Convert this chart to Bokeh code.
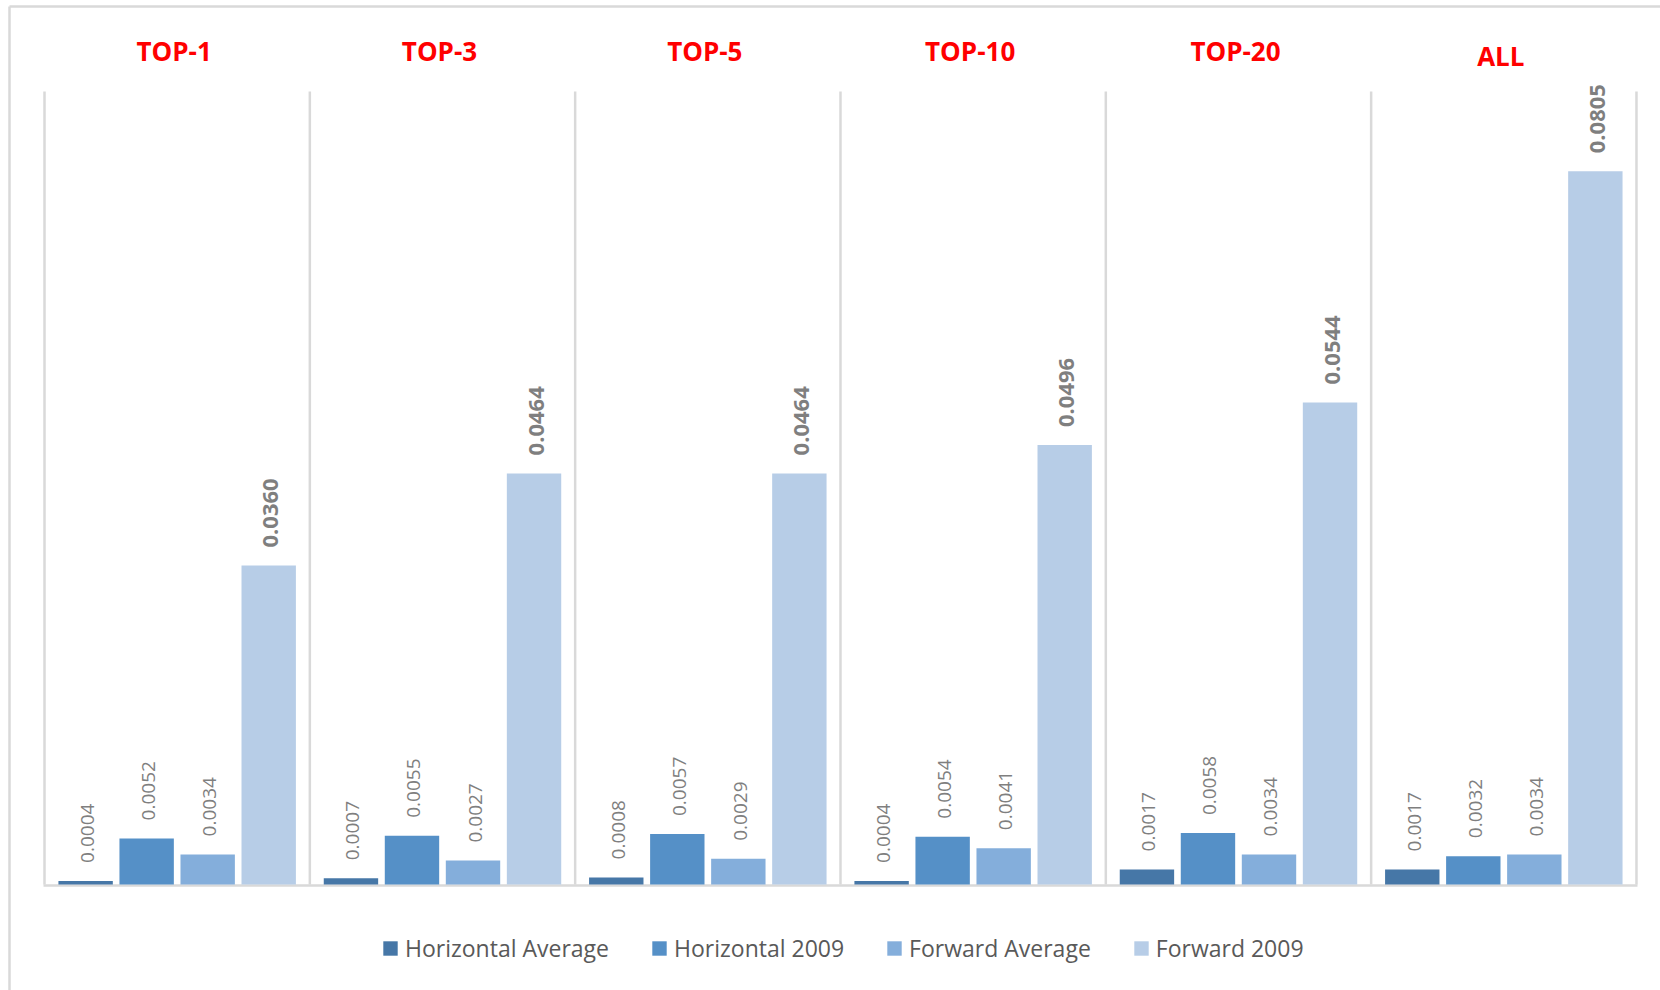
import numpy as np
from bokeh.plotting import figure
from bokeh.models import ColumnDataSource, Range1d, Legend, LegendItem
from bokeh.core.properties import value
from bokeh.embed import file_html
from bokeh.resources import INLINE

# ---- data ----
groups = ["TOP-1", "TOP-3", "TOP-5", "TOP-10", "TOP-20", "ALL"]
series_names = ["Horizontal Average", "Horizontal 2009", "Forward Average", "Forward 2009"]
horizontal_average = [0.0004, 0.0007, 0.0008, 0.0004, 0.0017, 0.0017]
horizontal_2009 = [0.0052, 0.0055, 0.0057, 0.0054, 0.0058, 0.0032]
forward_average = [0.0034, 0.0027, 0.0029, 0.0041, 0.0034, 0.0034]
forward_2009 = [0.0360, 0.0464, 0.0464, 0.0496, 0.0544, 0.0805]

# ---- styles / layout ----
colors = ["#4677A7", "#5590C7", "#84AEDB", "#B7CDE7"]
grid_color = "#D9D9D9"
W, H = 1660, 990
X0_PX, UNIT_X = 44.0, 265.33      # panel 0 left edge in px, px per panel
Y0_PX, UNIT_Y = 884.0, 8860.0     # baseline in px, px per value unit


def px2x(px):
    return (px - X0_PX) / UNIT_X


def px2y(py):
    return (Y0_PX - py) / UNIT_Y


p = figure(width=W, height=H, output_backend="svg", toolbar_location=None,
           x_range=Range1d(px2x(0), px2x(W)), y_range=Range1d(px2y(H), px2y(0)),
           x_axis_location=None, y_axis_location=None,
           min_border=0, min_border_left=0, min_border_right=0,
           min_border_top=0, min_border_bottom=0)
p.grid.visible = False
p.outline_line_color = None
p.background_fill_color = "white"
p.border_fill_color = "white"

n = len(groups)
idx = np.arange(n)

# outer chart border (top and left)
p.segment(x0=[px2x(9), px2x(9)], y0=[px2y(6), px2y(6)],
          x1=[px2x(W + 5), px2x(9)], y1=[px2y(6), px2y(H + 5)],
          line_color=grid_color, line_width=2.5)

# panel separators and baseline
plot_top = px2y(91)
sep_x = np.arange(n + 1)
p.segment(x0=sep_x, y0=[0] * (n + 1), x1=sep_x, y1=[plot_top] * (n + 1),
          line_color=grid_color, line_width=2.5)
p.segment(x0=[px2x(43)], y0=[px2y(885)], x1=[px2x(1637)], y1=[px2y(885)],
          line_color=grid_color, line_width=2.5)

# bars and labels
offsets = [-0.345, -0.115, 0.115, 0.345]
bar_w = 0.205
series_vals = [horizontal_average, horizontal_2009, forward_average, forward_2009]
renderers = []
for k, (name, vals, col) in enumerate(zip(series_names, series_vals, colors)):
    src = ColumnDataSource(dict(x=idx + 0.5 + offsets[k], top=vals,
                                label=[f"{v:.4f}" for v in vals]))
    r = p.vbar(x="x", top="top", bottom=0, width=bar_w, source=src,
               fill_color=col, line_color=None)
    renderers.append(r)
    last = (k == len(series_names) - 1)
    p.text(x="x", y="top", text="label", source=src, angle=np.pi / 2,
           text_align="left", text_baseline="middle", x_offset=2, y_offset=-18,
           text_font=value("Open Sans"),
           text_font_size="22px" if last else "19px",
           text_font_style="bold" if last else "normal",
           text_color="#7F7F7F")

# group titles
title_px = [50, 50, 50, 50, 50, 55]
tsrc = ColumnDataSource(dict(x=idx + 0.5, y=[px2y(v) for v in title_px], text=groups))
p.text(x="x", y="y", text="text", source=tsrc, x_offset=-3,
       text_align="center", text_baseline="middle",
       text_font=value("Open Sans"), text_font_size="26px",
       text_font_style="bold", text_color="#FF0000")

legend = Legend(items=[LegendItem(label=nm, renderers=[r]) for nm, r in zip(series_names, renderers)],
                orientation="horizontal", location=(381, 26),
                glyph_width=18, glyph_height=18, label_standoff=6, spacing=41,
                padding=0, margin=0, border_line_color=None,
                background_fill_alpha=0,
                label_text_font="Open Sans", label_text_font_size="23px",
                label_text_color="#595959")
p.add_layout(legend)

open("out.html", "w").write(file_html(p, INLINE))
